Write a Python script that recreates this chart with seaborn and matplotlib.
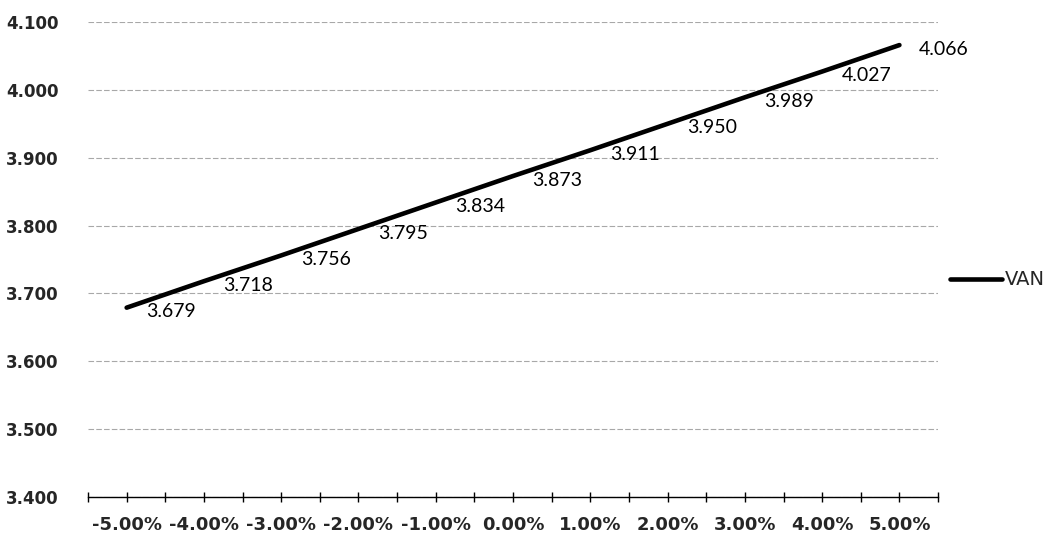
import numpy as np
import pandas as pd
import seaborn as sns
import matplotlib.pyplot as plt
from matplotlib.ticker import FixedLocator

# Sensitivity of VAN to change in the variable
variacion = ['-5.00%', '-4.00%', '-3.00%', '-2.00%', '-1.00%', '0.00%',
             '1.00%', '2.00%', '3.00%', '4.00%', '5.00%']
van = [3.679, 3.718, 3.756, 3.795, 3.834, 3.873, 3.911, 3.950, 3.989, 4.027, 4.066]
y_ticks = [3.4, 3.5, 3.6, 3.7, 3.8, 3.9, 4.0, 4.1]

df = pd.DataFrame({'pos': np.arange(len(variacion)), 'VAN': van})

sns.set_style('white')
plt.rcParams['font.family'] = ['DejaVu Sans']

fig = plt.figure(figsize=(10.54, 5.5), dpi=100)
ax = fig.add_axes([0.0835, 0.0964, 0.89 - 0.0835, 0.96 - 0.0964])

sns.lineplot(data=df, x='pos', y='VAN', ax=ax, color='black', linewidth=3.3,
             label='VAN', legend=False, solid_capstyle='round')

# value labels to the right of each point
for x, y in zip(df['pos'], df['VAN']):
    ax.annotate(f'{y:.3f}', (x, y), xytext=(14, -3), textcoords='offset points',
                ha='left', va='center', fontsize=14, family=['Lato', 'DejaVu Sans'],
                color='black')

ax.set_xlim(-0.5, len(variacion) - 0.5)
ax.set_ylim(3.4, 4.1)
ax.set_yticks(y_ticks)
ax.set_yticklabels([f'{v:.3f}' for v in y_ticks], fontsize=12, fontweight='bold')
ax.yaxis.grid(True, color='#a8a8a8', linewidth=0.8, linestyle=(0, (5, 2)))
ax.xaxis.grid(False)
ax.tick_params(axis='y', length=0, pad=21)

ax.set_xticks(df['pos'])
ax.set_xticklabels(variacion, fontsize=13, fontweight='bold')
ax.xaxis.set_minor_locator(FixedLocator(np.arange(-0.5, len(variacion), 1.0)))
ax.tick_params(axis='x', which='both', direction='inout', length=7, width=1,
               color='black', bottom=True, pad=10)

ax.set_xlabel('')
ax.set_ylabel('')
for side in ['left', 'right', 'top']:
    ax.spines[side].set_visible(False)
ax.spines['bottom'].set_color('black')
ax.spines['bottom'].set_linewidth(1.0)

handles, labels = ax.get_legend_handles_labels()
fig.legend(handles, labels, loc='center left', bbox_to_anchor=(0.901, 0.491),
           frameon=False, fontsize=14, handlelength=2.7, handletextpad=0.15,
           borderaxespad=0, borderpad=0)

fig.savefig('out.png', dpi=100, facecolor='white')
